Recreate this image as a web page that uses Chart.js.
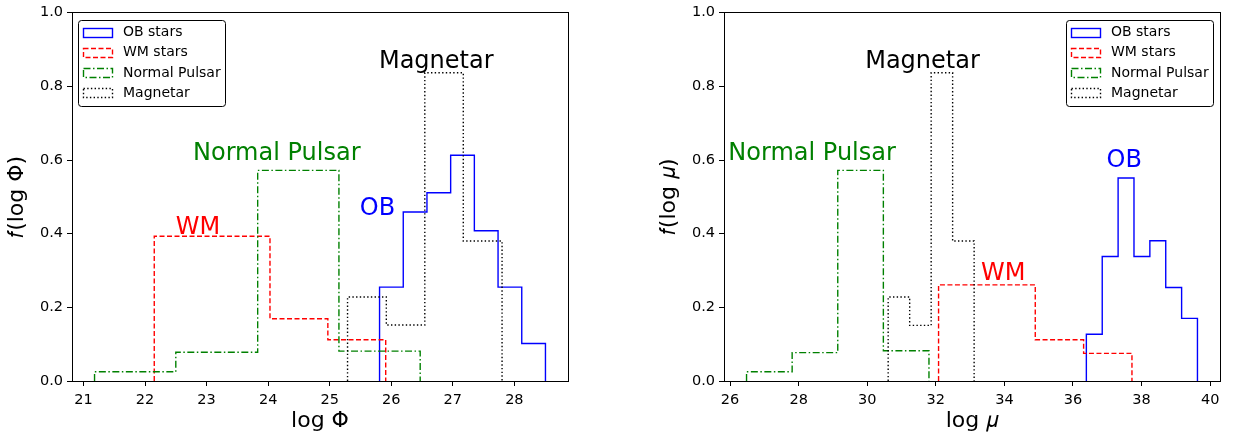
<!DOCTYPE html>
<html><head><meta charset="utf-8">
<script src="https://cdn.jsdelivr.net/npm/chart.js@4/dist/chart.umd.min.js"></script>
<style>
html,body{margin:0;padding:0;background:#fff;}
#wrap{position:relative;width:1233px;height:438px;overflow:hidden;background:#fff;}
canvas{position:absolute;top:0;}
</style></head><body>
<div id="wrap">
<canvas id="c1" width="600" height="438" style="left:0px;width:600px;height:438px"></canvas>
<canvas id="c2" width="581" height="438" style="left:652px;width:581px;height:438px"></canvas>
</div>
<script>
// ---------- data (bin edges and density values) ----------
const seriesLabels = ['OB stars', 'WM stars', 'Normal Pulsar', 'Magnetar'];

const phiOBEdges  = [25.81, 26.195, 26.58, 26.965, 27.35, 27.735, 28.12, 28.505];
const phiOBValues = [0.255, 0.459, 0.511, 0.613, 0.408, 0.255, 0.102];
const phiWMEdges  = [22.15, 23.09, 24.03, 24.97, 25.91];
const phiWMValues = [0.393, 0.393, 0.169, 0.112];
const phiNPEdges  = [21.18, 22.50, 23.83, 25.15, 26.47];
const phiNPValues = [0.025, 0.078, 0.572, 0.081];
const phiMagEdges = [25.29, 25.92, 26.545, 27.17, 27.80];
const phiMagValues= [0.228, 0.152, 0.837, 0.380];

const muOBEdges   = [36.39, 36.853, 37.316, 37.779, 38.242, 38.705, 39.168, 39.63];
const muOBValues  = [0.127, 0.338, 0.551, 0.338, 0.381, 0.254, 0.170];
const muWMEdges   = [32.08, 33.49, 34.90, 36.31, 37.72];
const muWMValues  = [0.261, 0.261, 0.112, 0.075];
const muNPEdges   = [26.48, 27.81, 29.14, 30.47, 31.80];
const muNPValues  = [0.025, 0.077, 0.572, 0.082];
const muMagEdges  = [30.61, 31.237, 31.864, 32.49, 33.117];
const muMagValues = [0.228, 0.151, 0.837, 0.380];

const phiTicks = [21, 22, 23, 24, 25, 26, 27, 28];
const muTicks  = [26, 28, 30, 32, 34, 36, 38, 40];
const yTicks   = [0.0, 0.2, 0.4, 0.6, 0.8, 1.0];

const phiNotes = [
  {text: 'Magnetar', x: 25.8, y: 0.85, color: '#000000'},
  {text: 'Normal Pulsar', x: 22.78, y: 0.60, color: '#008000'},
  {text: 'OB', x: 25.49, y: 0.45, color: '#0000ff'},
  {text: 'WM', x: 22.5, y: 0.40, color: '#ff0000'}
];
const muNotes = [
  {text: 'Magnetar', x: 29.94, y: 0.85, color: '#000000'},
  {text: 'Normal Pulsar', x: 25.95, y: 0.60, color: '#008000'},
  {text: 'OB', x: 36.98, y: 0.58, color: '#0000ff'},
  {text: 'WM', x: 33.32, y: 0.275, color: '#ff0000'}
];

// ---------- styling ----------
const FONT = "'DejaVu Sans', sans-serif";
const styles = [
  {color: '#0000ff', dash: [], order: 4},
  {color: '#ff0000', dash: [5, 2.5], order: 3},
  {color: '#008000', dash: [7, 2.5, 1.5, 2.5], order: 2},
  {color: '#000000', dash: [1.4, 2.3], order: 1}
];

function stepPoints(edges, values) {
  const pts = [{x: edges[0], y: 0}];
  values.forEach((v, i) => pts.push({x: edges[i], y: v}));
  pts.push({x: edges[edges.length - 1], y: 0});
  return pts;
}

function makeDatasets(list) {
  return list.map((s, i) => ({
    label: seriesLabels[i],
    data: stepPoints(s[0], s[1]),
    borderColor: styles[i].color,
    backgroundColor: 'rgba(0,0,0,0)',
    borderDash: styles[i].dash,
    borderWidth: 1.4,
    pointRadius: 0,
    fill: false,
    stepped: true,
    order: styles[i].order
  }));
}

function align(p) { return Math.round(p - 0.5) + 0.5; }

const extras = {
  id: 'extras',
  afterDatasetsDraw(chart, args, opts) {
    const ctx = chart.ctx, a = chart.chartArea;
    const xs = chart.scales.x, ys = chart.scales.y;
    ctx.save();
    // frame
    ctx.setLineDash([]);
    ctx.strokeStyle = '#000'; ctx.lineWidth = 1;
    const l = align(a.left), t = align(a.top), r = align(a.right), b = align(a.bottom);
    ctx.strokeRect(l, t, r - l, b - t);
    // annotations
    ctx.font = '24px ' + FONT; ctx.textBaseline = 'alphabetic'; ctx.textAlign = 'left';
    (opts.notes || []).forEach(n => {
      ctx.fillStyle = n.color;
      ctx.fillText(n.text, xs.getPixelForValue(n.x), ys.getPixelForValue(n.y));
    });
    // legend
    const W = 147, H = 86;
    const bx = opts.legendSide === 'right' ? Math.round(a.right) - 7 - W : Math.round(a.left) + 6;
    const by = Math.round(a.top) + 7;
    const rad = 3;
    ctx.beginPath();
    const x0 = bx + 0.5, y0 = by + 0.5, x1 = bx + W + 0.5, y1 = by + H + 0.5;
    ctx.moveTo(x0 + rad, y0);
    ctx.lineTo(x1 - rad, y0); ctx.arcTo(x1, y0, x1, y0 + rad, rad);
    ctx.lineTo(x1, y1 - rad); ctx.arcTo(x1, y1, x1 - rad, y1, rad);
    ctx.lineTo(x0 + rad, y1); ctx.arcTo(x0, y1, x0, y1 - rad, rad);
    ctx.lineTo(x0, y0 + rad); ctx.arcTo(x0, y0, x0 + rad, y0, rad);
    ctx.closePath();
    ctx.fillStyle = 'rgba(255,255,255,0.9)'; ctx.fill();
    ctx.strokeStyle = '#000'; ctx.lineWidth = 1; ctx.stroke();
    ctx.font = '14px ' + FONT; ctx.textBaseline = 'middle';
    chart.data.datasets.forEach((ds, i) => {
      const cy = by + 12 + 20.3 * i;
      ctx.setLineDash(ds.borderDash || []);
      ctx.strokeStyle = ds.borderColor; ctx.lineWidth = ds.borderWidth;
      ctx.strokeRect(bx + 5.5, Math.round(cy - 4.5) + 0.5, 29, 9);
      ctx.setLineDash([]);
      ctx.fillStyle = '#000';
      ctx.fillText(ds.label, bx + 45, cy + 0.5);
    });
    ctx.restore();
  }
};

function makeChart(id, datasets, xTicks, xTitle, yTitle, notes, legendSide, rightPad) {
  let lo = Infinity, hi = -Infinity;
  datasets.forEach(d => d.data.forEach(p => { lo = Math.min(lo, p.x); hi = Math.max(hi, p.x); }));
  const m = (hi - lo) * 0.05;
  return new Chart(document.getElementById(id), {
    type: 'line',
    data: {datasets},
    plugins: [extras],
    options: {
      responsive: false, animation: false, devicePixelRatio: 1,
      layout: {padding: {left: 0, top: 11, right: rightPad, bottom: 0}},
      plugins: {legend: {display: false}, tooltip: {enabled: false},
        extras: {notes, legendSide}},
      scales: {
        x: {
          type: 'linear', position: 'bottom', min: lo - m, max: hi + m,
          afterBuildTicks: s => { s.ticks = xTicks.map(v => ({value: v})); },
          afterFit: s => { s.height = 57; },
          ticks: {color: '#000', font: {family: FONT, size: 14.5}, padding: 6,
                  maxRotation: 0, autoSkip: false, callback: v => String(v)},
          grid: {drawOnChartArea: false, drawTicks: true, tickLength: 5, color: '#000', lineWidth: 1},
          border: {display: true, color: '#000', width: 1},
          title: {display: true, text: xTitle, color: '#000',
                  font: {family: FONT, size: 22}, padding: {top: 0, bottom: 4}}
        },
        y: {
          type: 'linear', position: 'left', min: 0, max: 1,
          afterBuildTicks: s => { s.ticks = yTicks.map(v => ({value: v})); },
          afterFit: s => { s.width = 72; },
          ticks: {color: '#000', font: {family: FONT, size: 14.5}, padding: 4,
                  callback: v => Number(v).toFixed(1)},
          grid: {drawOnChartArea: false, drawTicks: true, tickLength: 5, color: '#000', lineWidth: 1},
          border: {display: true, color: '#000', width: 1},
          title: {display: true, text: yTitle, color: '#000',
                  font: {family: FONT, size: 22}, padding: {top: 4, bottom: 0}}
        }
      }
    }
  });
}

makeChart('c1',
  makeDatasets([[phiOBEdges, phiOBValues], [phiWMEdges, phiWMValues], [phiNPEdges, phiNPValues], [phiMagEdges, phiMagValues]]),
  phiTicks, 'log Φ', '𝑓(log Φ)', phiNotes, 'left', 32);
makeChart('c2',
  makeDatasets([[muOBEdges, muOBValues], [muWMEdges, muWMValues], [muNPEdges, muNPValues], [muMagEdges, muMagValues]]),
  muTicks, 'log 𝜇', '𝑓(log 𝜇)', muNotes, 'right', 13);
</script></body></html>
